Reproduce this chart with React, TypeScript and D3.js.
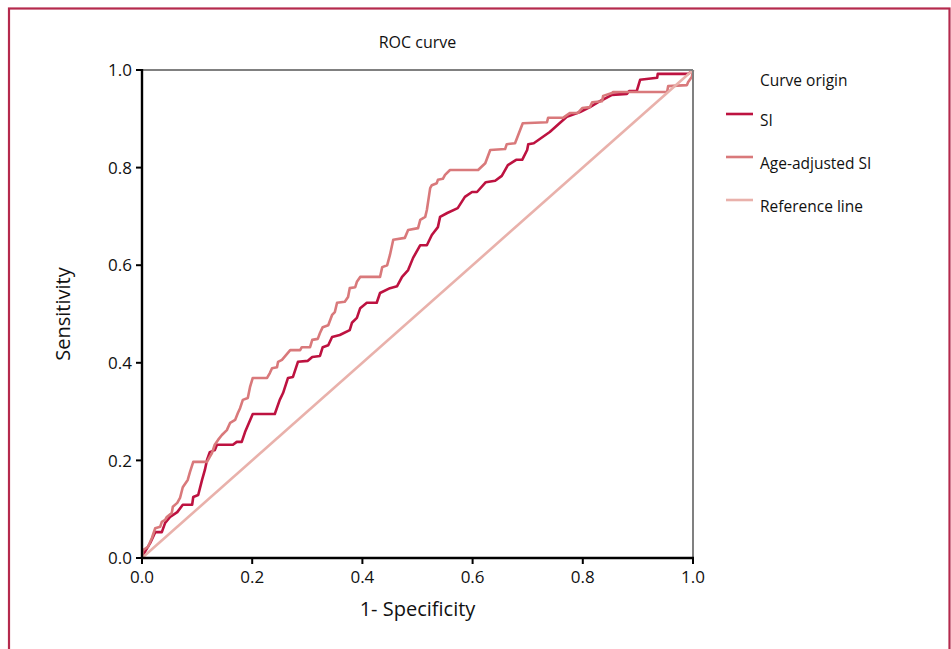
import React from 'react';
import * as d3 from 'd3';

// ROC curve: sensitivity vs 1-specificity for SI and age-adjusted SI
const TITLE = 'ROC curve';
const X_LABEL = '1- Specificity';
const Y_LABEL = 'Sensitivity';
const TICKS = [0, 0.2, 0.4, 0.6, 0.8, 1.0];

// [1-specificity, sensitivity]
const siPoints: [number, number][] = [
  [0, 0], [0.005, 0.012], [0.015, 0.031], [0.024, 0.053], [0.036, 0.053], [0.042, 0.072],
  [0.051, 0.084], [0.064, 0.094], [0.074, 0.109], [0.091, 0.109], [0.093, 0.125], [0.102, 0.129],
  [0.109, 0.16], [0.114, 0.18], [0.118, 0.201], [0.123, 0.217], [0.132, 0.221], [0.136, 0.232],
  [0.165, 0.232], [0.172, 0.238], [0.181, 0.238], [0.187, 0.258], [0.201, 0.295], [0.241, 0.295],
  [0.25, 0.324], [0.256, 0.338], [0.265, 0.369], [0.274, 0.371], [0.283, 0.402], [0.301, 0.404],
  [0.309, 0.412], [0.323, 0.414], [0.328, 0.432], [0.338, 0.436], [0.345, 0.453], [0.359, 0.457],
  [0.377, 0.467], [0.381, 0.482], [0.39, 0.492], [0.396, 0.512], [0.408, 0.523], [0.426, 0.523],
  [0.432, 0.543], [0.45, 0.553], [0.463, 0.557], [0.472, 0.576], [0.483, 0.59], [0.492, 0.615],
  [0.505, 0.641], [0.517, 0.641], [0.526, 0.662], [0.537, 0.678], [0.541, 0.699], [0.554, 0.707],
  [0.573, 0.717], [0.586, 0.74], [0.599, 0.75], [0.608, 0.75], [0.624, 0.77], [0.641, 0.773],
  [0.653, 0.783], [0.664, 0.805], [0.679, 0.816], [0.69, 0.816], [0.699, 0.836], [0.701, 0.848],
  [0.711, 0.85], [0.74, 0.873], [0.771, 0.904], [0.795, 0.914], [0.813, 0.924], [0.831, 0.936],
  [0.853, 0.949], [0.88, 0.951], [0.884, 0.957], [0.898, 0.957], [0.904, 0.98], [0.935, 0.984],
  [0.936, 0.992], [0.991, 0.992], [1, 1]
];

const agePoints: [number, number][] = [
  [0, 0], [0.002, 0.016], [0.011, 0.023], [0.018, 0.041], [0.024, 0.061], [0.033, 0.064],
  [0.036, 0.074], [0.042, 0.078], [0.045, 0.084], [0.054, 0.092], [0.056, 0.105], [0.064, 0.113],
  [0.069, 0.123], [0.074, 0.145], [0.083, 0.16], [0.087, 0.176], [0.093, 0.197], [0.118, 0.197],
  [0.123, 0.207], [0.127, 0.215], [0.132, 0.232], [0.138, 0.242], [0.145, 0.252], [0.154, 0.262],
  [0.16, 0.277], [0.169, 0.283], [0.174, 0.297], [0.178, 0.307], [0.183, 0.324], [0.192, 0.328],
  [0.196, 0.35], [0.201, 0.369], [0.227, 0.369], [0.232, 0.379], [0.236, 0.389], [0.245, 0.391],
  [0.247, 0.402], [0.254, 0.406], [0.269, 0.426], [0.287, 0.426], [0.29, 0.432], [0.305, 0.432],
  [0.309, 0.447], [0.319, 0.449], [0.323, 0.461], [0.328, 0.473], [0.338, 0.477], [0.345, 0.498],
  [0.35, 0.504], [0.354, 0.523], [0.368, 0.525], [0.374, 0.535], [0.377, 0.553], [0.387, 0.555],
  [0.39, 0.566], [0.396, 0.576], [0.432, 0.576], [0.436, 0.596], [0.445, 0.6], [0.45, 0.621],
  [0.456, 0.652], [0.477, 0.656], [0.483, 0.672], [0.501, 0.676], [0.505, 0.693], [0.514, 0.699],
  [0.517, 0.713], [0.523, 0.758], [0.526, 0.764], [0.535, 0.768], [0.537, 0.775], [0.546, 0.777],
  [0.55, 0.785], [0.559, 0.795], [0.61, 0.795], [0.623, 0.809], [0.632, 0.836], [0.659, 0.838],
  [0.662, 0.848], [0.677, 0.85], [0.691, 0.891], [0.735, 0.893], [0.737, 0.902], [0.764, 0.902],
  [0.777, 0.912], [0.791, 0.912], [0.799, 0.922], [0.813, 0.924], [0.817, 0.934], [0.835, 0.936],
  [0.837, 0.947], [0.853, 0.953], [0.855, 0.955], [0.953, 0.955], [0.955, 0.967], [0.989, 0.969],
  [0.991, 0.975], [0.998, 0.986], [1, 1]
];

const refPoints: [number, number][] = [[0, 0], [1, 1]];

const LEGEND_TITLE = 'Curve origin';
const seriesNames = ['SI', 'Age-adjusted SI', 'Reference line'];
const seriesColors = ['#bd1240', '#d9797b', '#e9b1ab'];

const W = 951, H = 649;
const margin = {left: 142, top: 70, right: 258, bottom: 91};
const FONT = '"Open Sans", sans-serif';

export default function App() {
  const innerW = W - margin.left - margin.right;
  const innerH = H - margin.top - margin.bottom;
  const x = d3.scaleLinear().domain([0, 1]).range([margin.left, margin.left + innerW]);
  const y = d3.scaleLinear().domain([0, 1]).range([margin.top + innerH, margin.top]);
  const line = d3.line<[number, number]>().x(d => x(d[0])).y(d => y(d[1])).curve(d3.curveLinear);
  const series = [siPoints, agePoints, refPoints];

  const x0 = x(0), x1 = x(1), y0 = y(0), y1 = y(1);
  const legendX = 726;
  const legendYs = [114, 157, 200];

  return (
    <svg width={W} height={H} style={{position: 'absolute', left: 0, top: 0, background: '#fff'}} fontFamily={FONT}>
      {/* frame */}
      <rect x={9} y={8.5} width={940.5} height={H + 20} fill="none" stroke="#b52a4d" strokeWidth={2.2} />

      <text x={(x0 + x1) / 2} y={48} textAnchor="middle" fontSize={16} fill="#111">{TITLE}</text>

      {/* curves */}
      {series.map((pts, i) => (
        <path key={i} d={line(pts) || ''} fill="none" stroke={seriesColors[i]} strokeWidth={2.6} strokeLinejoin="round" />
      ))}

      {/* spines */}
      <line x1={x0} x2={x1} y1={y1} y2={y1} stroke="#808080" strokeWidth={2} />
      <line x1={x1} x2={x1} y1={y1} y2={y0} stroke="#808080" strokeWidth={2} />
      <line x1={x0} x2={x0} y1={y1 - 1} y2={y0 + 1} stroke="#000" strokeWidth={2.4} />
      <line x1={x0 - 1} x2={x1 + 1} y1={y0} y2={y0} stroke="#000" strokeWidth={2.4} />

      {/* y ticks */}
      {TICKS.map(t => (
        <g key={'y' + t}>
          <line x1={x0 - 6} x2={x0} y1={y(t)} y2={y(t)} stroke="#000" strokeWidth={2} />
          <text x={x0 - 10} y={y(t)} dy="0.36em" textAnchor="end" fontSize={17} fill="#111">{t.toFixed(1)}</text>
        </g>
      ))}
      {/* x ticks */}
      {TICKS.map(t => (
        <g key={'x' + t}>
          <line x1={x(t)} x2={x(t)} y1={y0} y2={y0 + 6} stroke="#000" strokeWidth={2} />
          <text x={x(t)} y={y0 + 25} textAnchor="middle" fontSize={17} fill="#111">{t.toFixed(1)}</text>
        </g>
      ))}

      <text x={(x0 + x1) / 2} y={616} textAnchor="middle" fontSize={20} fill="#111">{X_LABEL}</text>
      <text transform={`translate(70,${(y0 + y1) / 2}) rotate(-90)`} textAnchor="middle" fontSize={20} fill="#111">{Y_LABEL}</text>

      {/* legend */}
      <text x={760} y={86} fontSize={15.5} fill="#111">{LEGEND_TITLE}</text>
      {seriesNames.map((name, i) => (
        <g key={name}>
          <line x1={legendX} x2={legendX + 27} y1={legendYs[i]} y2={legendYs[i]} stroke={seriesColors[i]} strokeWidth={2.6} />
          <text x={760} y={legendYs[i] + 12} fontSize={15.5} fill="#111">{name}</text>
        </g>
      ))}
    </svg>
  );
}
